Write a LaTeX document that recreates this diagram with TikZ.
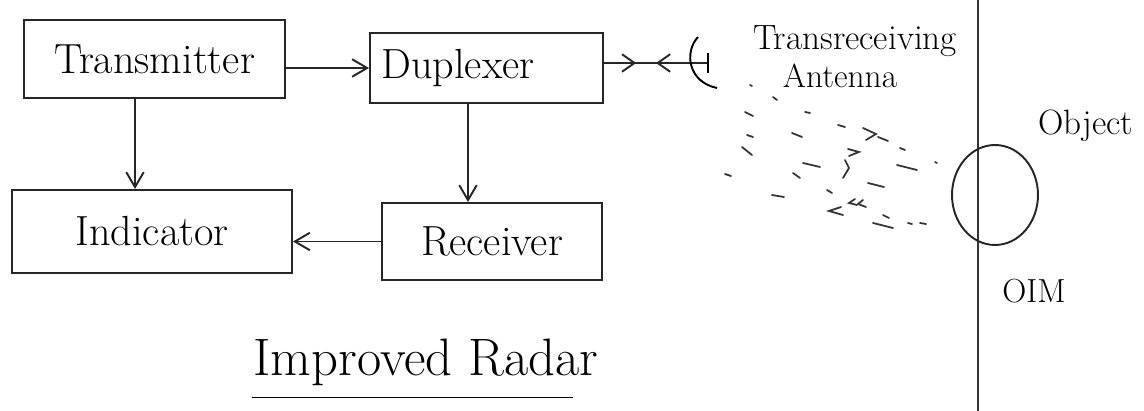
\documentclass[tikz,border=0pt]{standalone}
\usepackage{tikz}
\usetikzlibrary{positioning,shapes.geometric,arrows.meta,decorations.markings}

\begin{document}
\begin{tikzpicture}[
    x=0.02cm, y=-0.02cm,
    block/.style={rectangle, draw=black!85, line width=1.1pt, inner sep=2pt,
                  font=\fontsize{24}{28}\selectfont},
    note/.style={font=\fontsize{20}{24}\selectfont, inner sep=1pt},
    arrow/.style={-{Straight Barb[length=3mm,width=3.5mm]}, line width=1.1pt, draw=black!85},
    wave/.style={line width=1pt, line cap=round, draw=black!80},
    feedline/.style={line width=1.1pt, draw=black!85, postaction={decorate},
                     decoration={markings,
                       mark=at position 0.31 with {\arrow{Straight Barb[length=2.5mm,width=3.5mm]}},
                       mark=at position 0.50 with {\arrowreversed{Straight Barb[length=2.5mm,width=3.5mm]}}}}
]
\useasboundingbox (0,0) rectangle (1144,411);

% Blocks
\node[block, minimum width=5.22cm, minimum height=1.56cm] (trans) at (154.5,59) {Transmitter};
\node[block, minimum width=4.66cm, minimum height=1.4cm, text width=4.2cm] (duplex) at (486.5,68) {Duplexer};
\node[block, minimum width=5.6cm, minimum height=1.66cm] (indic) at (152,231.5) {Indicator};
\node[block, minimum width=4.4cm, minimum height=1.54cm] (recv) at (492,241.5) {Receiver};

% Connections between blocks
\draw[arrow] (trans.east |- duplex.west) -- (duplex.west);
\draw[arrow] ([xshift=-0.39cm]trans.south) -- ([xshift=-0.39cm]trans.south |- indic.north);
\draw[arrow] ([xshift=-0.37cm]duplex.south) -- ([xshift=-0.37cm]duplex.south |- recv.north);
\draw[arrow] (recv.west) -- (recv.west -| indic.east);

% Antenna
\coordinate (feed) at (708,63);
\draw[feedline] (duplex.east |- feed) -- (feed);
\draw[line width=1.1pt] ([yshift=0.2cm]feed) -- ([yshift=-0.2cm]feed);
\draw[line width=1.1pt] (698,37) .. controls (684,52) and (688,82) .. (717,88);
\node[note, anchor=base] (ttl) at (855,50) {Transreceiving};
\node[note, font=\fontsize{19}{22}\selectfont, below=0.06cm of ttl, xshift=-0.3cm] (antlbl) {Antenna};

% Waves between antenna and object
\foreach \xa/\ya/\xb/\yb in {750/85/752/86, 773/97/777/100, 745/112/753/116, 805/112/810/113,
    838/125/845/127, 878/137/888/141, 747/135/753/137, 742/147/752/155, 792/133/802/137,
    900/148/905/150, 803/163/820/167, 897/165/917/170, 935/162/937/163, 725/174/731/176,
    793/173/800/178, 868/183/884/187, 772/195/784/197, 827/190/832/193, 873/223/893/228,
    883/215/889/218, 908/223/912/224, 920/223/926/224}
  \draw[wave] (\xa,\ya) -- (\xb,\yb);
\draw[wave] (863,128) -- (876,134) -- (866,140);
\draw[wave] (848,149) -- (859,152) -- (849,156);
\draw[wave] (845,160) -- (849,168) -- (843,178);
\draw[wave] (841,207) -- (829,211) -- (843,215);
\draw[wave] (855,199) -- (849,203) -- (857,205);
\draw[wave] (863,200) -- (858,204) -- (866,207);

% Object side
\draw[line width=1pt, draw=black!80] (978,0) -- (978,411);
\node[ellipse, draw=black!85, line width=1.1pt, minimum width=1.72cm, minimum height=2cm] (obj) at (995,195) {};
\node[note] (objlbl) at (1086,126) {Object};
\node[note, font=\fontsize{19}{22}\selectfont] (oim) at (1034,291) {OIM};

% Title
\node[note, font=\fontsize{30}{36}\selectfont] (title) at (426,362) {Improved Radar};
\draw[line width=1.1pt] ([yshift=-0.2cm]title.south west) -- ([xshift=-0.55cm,yshift=-0.2cm]title.south east);

\end{tikzpicture}
\end{document}
